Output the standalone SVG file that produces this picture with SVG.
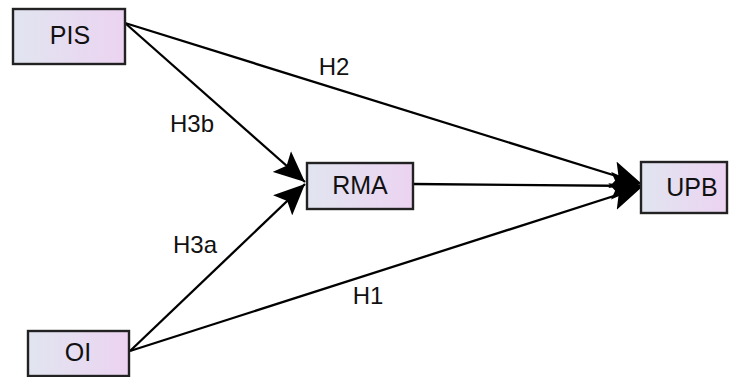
<svg xmlns="http://www.w3.org/2000/svg" width="732" height="377" viewBox="0 0 732 377">
  <defs>
    <linearGradient id="boxfill" x1="0" y1="0" x2="1" y2="0">
      <stop offset="0" stop-color="#e1e5f0"/>
      <stop offset="1" stop-color="#ecd3f1"/>
    </linearGradient>
    <marker id="arr" markerUnits="userSpaceOnUse" markerWidth="32" markerHeight="28" refX="29" refY="13" orient="auto" viewBox="0 0 30 26">
      <path d="M0,0 L29,13 L0,26 L6,13 Z" fill="#000"/>
    </marker>
    <style>
      .box { fill: url(#boxfill); stroke: #222; stroke-width: 2.4; }
      .lbl { font-family: "Liberation Sans", Arial, sans-serif; font-size: 25px; fill: #111; text-anchor: middle; }
      .elbl { font-family: "Liberation Sans", Arial, sans-serif; font-size: 24px; fill: #111; text-anchor: middle; }
      .edge { stroke: #000; stroke-width: 2.3; fill: none; marker-end: url(#arr); }
    </style>
  </defs>
  <rect width="732" height="377" fill="#fff"/>
  <g id="connectors">
    <line class="edge" x1="125" y1="23" x2="642" y2="184"/>
    <line class="edge" x1="125" y1="23" x2="305" y2="182"/>
    <line class="edge" x1="130" y1="351" x2="305" y2="184"/>
    <line class="edge" x1="130" y1="351" x2="642" y2="187"/>
    <line class="edge" x1="413" y1="184" x2="642" y2="186"/>
    <text class="elbl" x="334" y="75">H2</text>
    <text class="elbl" x="192" y="132">H3b</text>
    <text class="elbl" x="195" y="253">H3a</text>
    <text class="elbl" x="368" y="304">H1</text>
  </g>
  <g id="PIS">
    <rect class="box" x="13" y="9" width="112" height="55"/>
    <text class="lbl" x="70" y="44">PIS</text>
  </g>
  <g id="RMA">
    <rect class="box" x="307" y="163" width="106" height="46"/>
    <text class="lbl" x="360" y="194">RMA</text>
  </g>
  <g id="UPB">
    <rect class="box" x="641" y="162" width="86" height="51"/>
    <text class="lbl" x="692" y="196">UPB</text>
  </g>
  <g id="OI">
    <rect class="box" x="28" y="331" width="101" height="45"/>
    <text class="lbl" x="78" y="361">OI</text>
  </g>
</svg>
